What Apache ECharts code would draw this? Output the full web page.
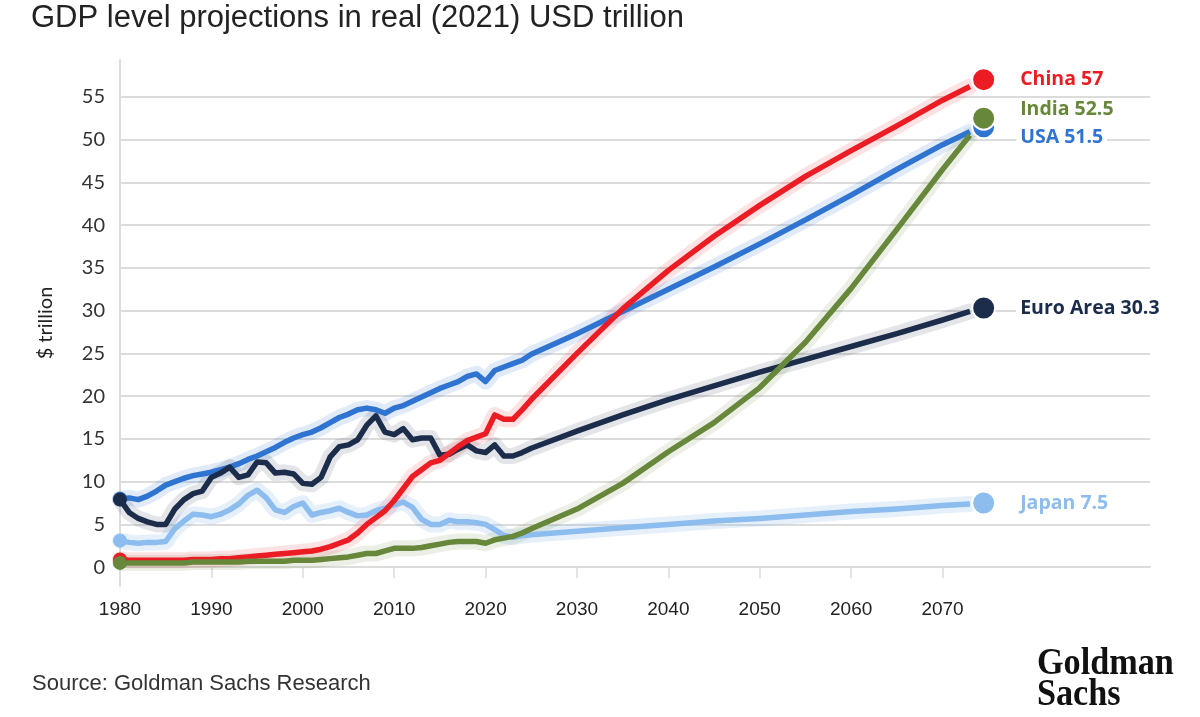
<!DOCTYPE html>
<html>
<head>
<meta charset="utf-8">
<script src="https://cdn.jsdelivr.net/npm/echarts@6/dist/echarts.min.js"></script>
<style>
html,body{margin:0;padding:0;background:#fff;}
#chart{width:1200px;height:717px;}
</style>
</head>
<body>
<div id="chart"></div>
<script>
// ---- Data ----
const histYears = [1980,1981,1982,1983,1984,1985,1986,1987,1988,1989,1990,1991,1992,1993,1994,1995,1996,1997,1998,1999,2000,2001,2002,2003,2004,2005,2006,2007,2008,2009,2010,2011,2012,2013,2014,2015,2016,2017,2018,2019,2020,2021,2022,2023,2024];
const projYears = [2025,2030,2035,2040,2045,2050,2055,2060,2065,2070,2073];

const chinaHist = [0.9,0.8,0.8,0.8,0.8,0.8,0.8,0.8,0.9,0.9,0.9,1.0,1.0,1.1,1.2,1.3,1.4,1.5,1.6,1.7,1.8,1.9,2.1,2.4,2.8,3.2,4.0,5.0,5.8,6.6,7.8,9.2,10.6,11.4,12.2,12.5,13.3,14.1,14.8,15.2,15.6,17.8,17.3,17.3,18.4];
const chinaProj = [19.6,25.0,30.2,34.7,38.7,42.3,45.7,48.7,51.6,54.6,56.2];

const indiaHist = [0.5,0.5,0.5,0.5,0.5,0.5,0.5,0.5,0.6,0.6,0.6,0.6,0.6,0.6,0.7,0.7,0.7,0.7,0.7,0.8,0.8,0.8,0.9,1.0,1.1,1.2,1.4,1.6,1.6,1.9,2.2,2.2,2.2,2.3,2.5,2.7,2.9,3.0,3.0,3.0,2.8,3.2,3.4,3.6,4.0];
const indiaProj = [4.5,6.8,9.8,13.5,16.9,21.0,26.3,32.6,39.5,46.5,50.5];

const usaHist = [8.0,8.1,7.9,8.3,8.9,9.6,10.0,10.4,10.7,10.9,11.1,11.4,11.7,12.1,12.6,13.0,13.5,14.0,14.6,15.1,15.5,15.8,16.3,16.9,17.5,17.9,18.4,18.6,18.4,18.0,18.6,18.9,19.4,19.9,20.4,20.9,21.3,21.7,22.3,22.6,21.7,23.0,23.4,23.8,24.2];
const usaProj = [24.9,27.3,29.9,32.5,35.1,37.8,40.6,43.5,46.5,49.4,50.9];

const euroHist = [7.9,6.4,5.7,5.3,5.0,5.0,6.8,7.9,8.6,8.9,10.5,11.0,11.7,10.5,10.8,12.3,12.2,11.0,11.1,10.9,9.8,9.7,10.5,12.9,14.1,14.3,14.9,16.6,17.7,15.8,15.5,16.2,14.9,15.1,15.1,13.1,13.2,13.8,14.3,13.6,13.4,14.3,13.0,13.0,13.4];
const euroProj = [13.9,15.9,17.8,19.6,21.2,22.8,24.3,25.8,27.3,28.9,29.9];

const japanHist = [3.1,2.9,2.8,2.9,2.9,3.0,4.5,5.4,6.2,6.1,5.9,6.2,6.7,7.4,8.4,9.0,8.1,6.7,6.4,7.1,7.5,6.1,6.4,6.6,6.9,6.4,6.0,6.1,6.6,6.9,7.3,7.6,7.0,5.6,5.0,5.0,5.5,5.3,5.3,5.2,5.0,4.4,3.7,3.5,3.7];
const japanProj = [3.8,4.2,4.6,5.0,5.4,5.7,6.1,6.5,6.8,7.2,7.4];

const endNames = ['China','USA','India','Euro Area','Japan'];
const endValues = [57, 51.5, 52.5, 30.3, 7.5];
const endYear = 2074.5;

const yTicks = [0,5,10,15,20,25,30,35,40,45,50,55];
const xTicks = [1980,1990,2000,2010,2020,2030,2040,2050,2060,2070];

// ---- Styles ----
const colors = {
  'China': '#ec1c24',
  'India': '#67873a',
  'USA': '#2f74d0',
  'Euro Area': '#1b2d4b',
  'Japan': '#8dbcee'
};
const halo = {
  'China': 'rgba(236,28,36,0.13)',
  'India': 'rgba(103,135,58,0.13)',
  'USA': 'rgba(47,116,208,0.15)',
  'Euro Area': 'rgba(27,45,75,0.12)',
  'Japan': 'rgba(141,188,238,0.22)'
};
const labelOffsets = {
  'China': [0, 0], 'India': [0, -9], 'USA': [0, 11], 'Euro Area': [0, 0], 'Japan': [0, 0]
};

function pairs(hist, proj) {
  const out = histYears.map((y, i) => [y, hist[i]]);
  projYears.forEach((y, i) => out.push([y, proj[i]]));
  return out;
}

// drawing order bottom -> top
const lineDefs = [
  ['Japan', japanHist, japanProj],
  ['USA', usaHist, usaProj],
  ['Euro Area', euroHist, euroProj],
  ['China', chinaHist, chinaProj],
  ['India', indiaHist, indiaProj]
];

const series = [];
lineDefs.forEach(([name, h, p]) => {
  series.push({
    name: name + ' halo',
    type: 'line',
    data: pairs(h, p),
    showSymbol: false,
    lineStyle: { color: halo[name], width: 16, cap: 'round', join: 'round' },
    clip: false, silent: true, animation: false, z: 2
  });
});
lineDefs.forEach(([name, h, p]) => {
  series.push({
    name: name,
    type: 'line',
    data: pairs(h, p),
    showSymbol: true,
    showAllSymbol: true,
    symbol: 'circle',
    symbolSize: (v, params) => params.dataIndex === 0 ? 14 : 0,
    itemStyle: { color: colors[name], opacity: 1 },
    lineStyle: { color: colors[name], width: 5.5, join: 'round' },
    clip: false, silent: true, animation: false, z: 3
  });
});

series.push({
  type: 'scatter',
  data: endNames.map((n, i) => ({
    value: [endYear, endValues[i]],
    name: n,
    itemStyle: { color: colors[n], borderColor: '#fff', borderWidth: 2, opacity: 1 },
    label: {
      show: true,
      position: 'right',
      distance: 20,
      offset: labelOffsets[n],
      formatter: n + ' ' + endValues[i],
      color: colors[n],
      fontFamily: 'Open Sans',
      fontWeight: 'bold',
      fontSize: 19.5,
      backgroundColor: '#fff',
      padding: [1, 4]
    }
  })),
  symbolSize: 23,
  clip: false,
  animation: false,
  z: 5
});

const chart = echarts.init(document.getElementById('chart'));
chart.setOption({
  backgroundColor: '#fff',
  animation: false,
  title: [
    {
      text: 'GDP level projections in real (2021) USD trillion',
      left: 26, top: -2,
      textStyle: { fontFamily: 'Liberation Sans', fontWeight: 'normal', fontSize: 31, color: '#222' }
    },
    {
      text: 'Source: Goldman Sachs Research',
      left: 27, top: 668,
      textStyle: { fontFamily: 'Liberation Sans', fontWeight: 'normal', fontSize: 22, color: '#333' }
    }
  ],
  graphic: [
    {
      type: 'text', left: 1037, top: 645,
      style: { text: 'Goldman', font: 'bold 38px "Liberation Serif"', fill: '#111' },
      scaleX: 0.9
    },
    {
      type: 'text', left: 1037, top: 676,
      style: { text: 'Sachs', font: 'bold 38px "Liberation Serif"', fill: '#111' },
      scaleX: 0.9
    }
  ],
  grid: { left: 120, right: 50, top: 60, bottom: 131, containLabel: false },
  xAxis: {
    type: 'value',
    min: 1980, max: 2092.7,
    axisLine: { show: true, lineStyle: { color: '#dcdcdc', width: 2 } },
    axisTick: { show: true, length: 11, customValues: xTicks, lineStyle: { color: '#dcdcdc', width: 1.5 } },
    axisLabel: {
      customValues: xTicks, margin: 14, fontFamily: 'Liberation Sans', fontSize: 19, color: '#222',
      formatter: (v) => String(v)
    },
    splitLine: { show: false }
  },
  yAxis: {
    type: 'value',
    min: -2.2, max: 59.3,
    name: '$ trillion',
    nameLocation: 'middle',
    nameGap: 64,
    nameTextStyle: { fontFamily: 'Lato', fontSize: 20, color: '#222' },
    axisLine: { show: true, lineStyle: { color: '#dcdcdc', width: 2 } },
    axisTick: { show: false, customValues: yTicks },
    axisLabel: { customValues: yTicks, margin: 15, fontFamily: 'Lato', fontSize: 20, color: '#333' },
    splitLine: { show: true, lineStyle: { color: '#dcdcdc', width: 2 } }
  },
  series: series
});
</script>
</body>
</html>
